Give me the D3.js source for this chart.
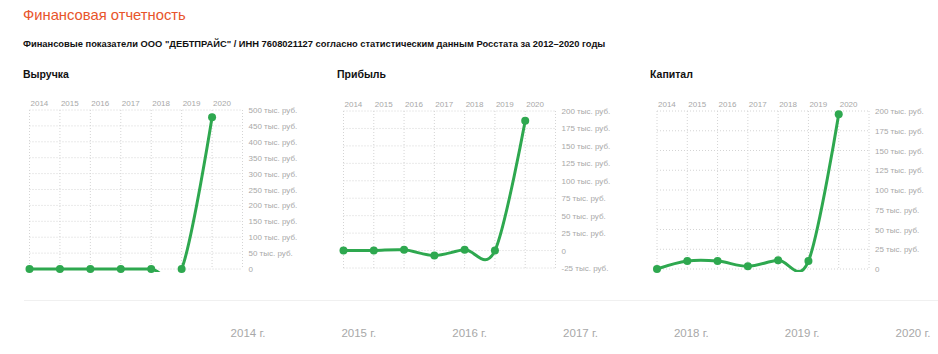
<!DOCTYPE html>
<html>
<head>
<meta charset="utf-8">
<script src="https://cdn.jsdelivr.net/npm/d3@7"></script>
<style>
  body { margin: 0; background: #fff; }
  svg { display: block; font-family: "Liberation Sans", Arial, sans-serif; }
</style>
</head>
<body>
<div id="chart"></div>
<script>
// data (values in thousands of rubles)
var years = [2014, 2015, 2016, 2017, 2018, 2019, 2020];
var revenue = [0, 0, 0, 0, 0, 0, 477];
var profit = [0, 0, 1, -7, 1, 0, 186];
var capital = [0, 10, 10, 3.5, 11, 10, 196];

var revenueTicks = [0, 50, 100, 150, 200, 250, 300, 350, 400, 450, 500];
var profitTicks = [-25, 0, 25, 50, 75, 100, 125, 150, 175, 200];
var capitalTicks = [0, 25, 50, 75, 100, 125, 150, 175, 200];

var timelineYears = [2014, 2015, 2016, 2017, 2018, 2019, 2020];

var width = 938, height = 354;
var green = "#2ea84f";

var svg = d3.select("#chart").append("svg")
    .attr("width", width)
    .attr("height", height);

var defs = svg.append("defs");

// fit a text element to a given width by changing font size
function fitWidth(sel, w) {
  var len = sel.node().getComputedTextLength();
  var fs = parseFloat(sel.attr("font-size"));
  sel.attr("font-size", fs * w / len);
}

var title = svg.append("text")
    .attr("x", 23).attr("y", 20)
    .attr("font-size", 16)
    .attr("fill", "#e8552b")
    .text("Финансовая отчетность");
fitWidth(title, 163);

var subtitle = svg.append("text")
    .attr("x", 23).attr("y", 47)
    .attr("font-size", 11)
    .attr("font-weight", "bold")
    .attr("fill", "#111")
    .text("Финансовые показатели ООО \"ДЕБТПРАЙС\" / ИНН 7608021127 согласно статистическим данным Росстата за 2012–2020 годы");
fitWidth(subtitle, 583);

var panels = [
  { name: "Выручка", values: revenue, ticks: revenueTicks, titleX: 23, left: 29.5, right: 242.5, top: 110, bottom: 269 },
  { name: "Прибыль", values: profit, ticks: profitTicks, titleX: 337, left: 343.5, right: 555.5, top: 111, bottom: 268 },
  { name: "Капитал", values: capital, ticks: capitalTicks, titleX: 650, left: 657, right: 869, top: 111, bottom: 269 }
];

panels.forEach(function(p, i) {
  var g = svg.append("g");

  g.append("text")
      .attr("x", p.titleX).attr("y", 78)
      .attr("font-size", 10.5)
      .attr("font-weight", "bold")
      .attr("fill", "#111")
      .text(p.name);

  // one extra slot on the right for the closing gridline
  var x = d3.scalePoint()
      .domain(years.concat([years[years.length - 1] + 1]))
      .range([p.left, p.right]);

  var y = d3.scaleLinear()
      .domain(d3.extent(p.ticks))
      .range([p.bottom, p.top]);

  // vertical grid
  g.append("g").selectAll("line")
    .data(x.domain())
    .enter().append("line")
      .attr("x1", function(d) { return x(d); })
      .attr("x2", function(d) { return x(d); })
      .attr("y1", p.top).attr("y2", p.bottom)
      .attr("stroke", "#d4d4d4")
      .attr("stroke-dasharray", "1,2");

  // horizontal grid
  g.append("g").selectAll("line")
    .data(p.ticks)
    .enter().append("line")
      .attr("x1", p.left).attr("x2", p.right)
      .attr("y1", function(d) { return y(d); })
      .attr("y2", function(d) { return y(d); })
      .attr("stroke", "#d4d4d4")
      .attr("stroke-dasharray", "1,2");

  // year labels on top
  g.append("g").selectAll("text")
    .data(years)
    .enter().append("text")
      .attr("x", function(d) { return x(d) + 1; })
      .attr("y", p.top - 4)
      .attr("font-size", 8)
      .attr("fill", "#a8a8a8")
      .text(function(d) { return d; });

  // value labels on the right
  g.append("g").selectAll("text")
    .data(p.ticks)
    .enter().append("text")
      .attr("x", p.right + 6)
      .attr("y", function(d) { return y(d) + 3; })
      .attr("font-size", 8)
      .attr("fill", "#a8a8a8")
      .text(function(d) { return d === 0 ? "0" : d + " тыс. руб."; });

  defs.append("clipPath").attr("id", "clip" + i)
    .append("rect")
      .attr("x", p.left - 10).attr("y", p.top - 10)
      .attr("width", p.right - p.left + 20)
      .attr("height", p.bottom - p.top + 13);

  var line = d3.line()
      .x(function(d, j) { return x(years[j]); })
      .y(function(d) { return y(d); })
      .curve(d3.curveCardinal.tension(0));

  g.append("path")
      .datum(p.values)
      .attr("clip-path", "url(#clip" + i + ")")
      .attr("fill", "none")
      .attr("stroke", green)
      .attr("stroke-width", 3)
      .attr("stroke-linejoin", "round")
      .attr("d", line);

  g.append("g").selectAll("circle")
    .data(p.values)
    .enter().append("circle")
      .attr("cx", function(d, j) { return x(years[j]); })
      .attr("cy", function(d) { return y(d); })
      .attr("r", 4)
      .attr("fill", green);
});

// timeline at the bottom
svg.append("line")
    .attr("x1", 24).attr("x2", width)
    .attr("y1", 300.5).attr("y2", 300.5)
    .attr("stroke", "#f0f0f0")
    .attr("stroke-width", 1);

var tx = d3.scalePoint()
    .domain(timelineYears)
    .range([248, 913]);

svg.append("g").selectAll("text")
  .data(timelineYears)
  .enter().append("text")
    .attr("x", function(d) { return tx(d); })
    .attr("y", 337)
    .attr("text-anchor", "middle")
    .attr("font-family", "'Liberation Sans Narrow', 'Liberation Sans', sans-serif")
    .attr("font-size", 11.5)
    .attr("fill", "#a8a8a8")
    .text(function(d) { return d + " г."; });
</script>
</body>
</html>
